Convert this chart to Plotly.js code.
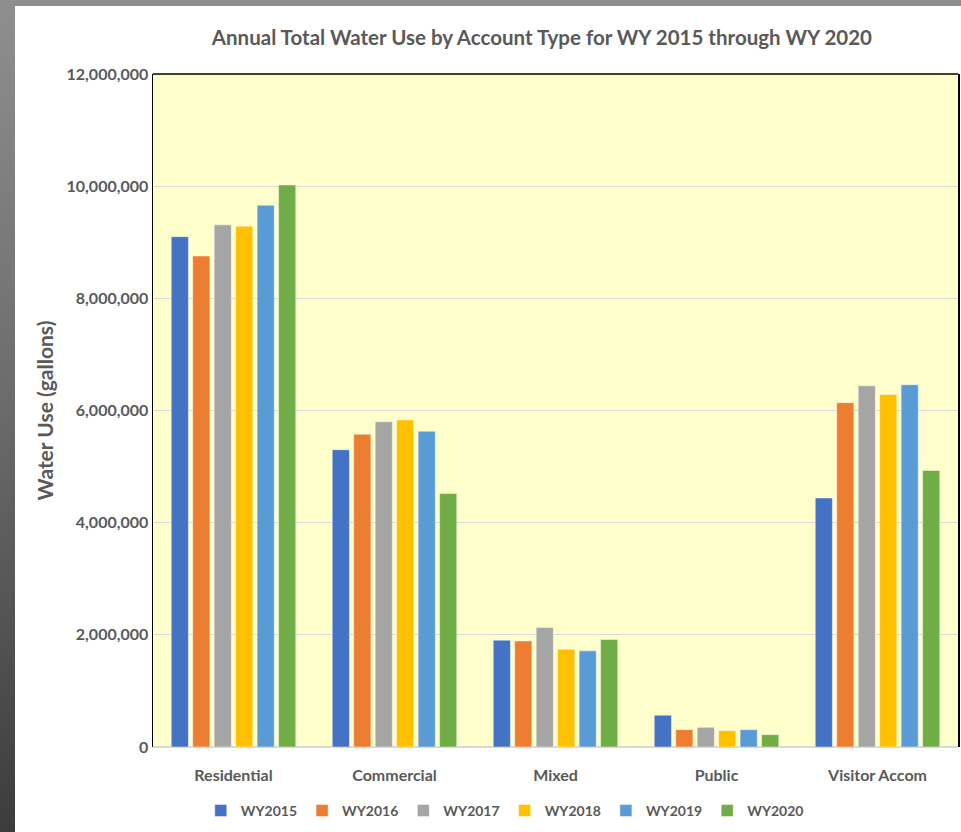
<!DOCTYPE html>
<html>
<head>
<meta charset="utf-8">
<script src="https://cdn.plot.ly/plotly-3.0.1.min.js"></script>
<style>
  html, body { margin: 0; padding: 0; width: 961px; height: 832px; overflow: hidden; }
  body { background: linear-gradient(to bottom, #8f8f8f 0%, #6a6a6a 50%, #3c3c3c 100%); position: relative; }
  #topstrip { position: absolute; left: 0; top: 0; width: 961px; height: 6px; background: #8e8e8e; }
  #chart { position: absolute; left: 15px; top: 6px; width: 946px; height: 826px; background: #ffffff; }
</style>
</head>
<body>
<div id="topstrip"></div>
<div id="chart"></div>
<script>
const categories = ["Residential", "Commercial", "Mixed", "Public", "Visitor Accom"];
const seriesNames = ["WY2015", "WY2016", "WY2017", "WY2018", "WY2019", "WY2020"];
const wy2015 = [9100000, 5300000, 1905000, 566000, 4440000];
const wy2016 = [8755000, 5577000, 1890000, 309000, 6140000];
const wy2017 = [9310000, 5800000, 2130000, 351000, 6440000];
const wy2018 = [9286000, 5830000, 1744000, 291000, 6286000];
const wy2019 = [9660000, 5630000, 1714000, 309000, 6460000];
const wy2020 = [10020000, 4520000, 1916000, 220000, 4930000];
const seriesValues = [wy2015, wy2016, wy2017, wy2018, wy2019, wy2020];
const colors = ["#4472C4", "#ED7D31", "#A5A5A5", "#FFC000", "#5B9BD5", "#70AD47"];
const yTickVals = [0, 2000000, 4000000, 6000000, 8000000, 10000000, 12000000];
const yTickText = ["0", "2,000,000", "4,000,000", "6,000,000", "8,000,000", "10,000,000", "12,000,000"];

const LATO = 'Lato, "Open Sans", sans-serif';

const traces = seriesNames.map((name, i) => ({
  type: "bar",
  name: name,
  x: categories,
  y: seriesValues[i],
  marker: { color: colors[i], line: { color: "rgba(255,255,255,0.45)", width: 1 } },
  hoverinfo: "x+y+name"
}));

const layout = {
  width: 946,
  height: 826,
  margin: { l: 138, r: 3, t: 68, b: 85 },
  paper_bgcolor: "#ffffff",
  plot_bgcolor: "#FFFFCC",
  barmode: "group",
  bargap: 0.2,
  bargroupgap: 0.2,
  title: {
    text: "Annual Total Water Use by Account Type for WY 2015 through WY 2020",
    font: { family: LATO, size: 20.5, color: "#595959", weight: 700 },
    x: 0.557, xanchor: "center",
    y: 0.962, yanchor: "middle"
  },
  xaxis: {
    showline: false,
    showgrid: false,
    ticks: "outside",
    ticklen: 14,
    tickcolor: "rgba(0,0,0,0)",
    tickfont: { family: LATO, size: 16, color: "#595959", weight: 700 },
    fixedrange: true
  },
  yaxis: {
    range: [0, 12000000],
    tickvals: yTickVals,
    ticktext: yTickText,
    tickfont: { family: LATO, size: 16, color: "#595959", weight: 700 },
    showgrid: true,
    gridcolor: "#D9D9D9",
    gridwidth: 1,
    zeroline: true,
    zerolinecolor: "#D9D9D9",
    zerolinewidth: 1.5,
    showline: true,
    linecolor: "#000000",
    linewidth: 1.5,
    mirror: true,
    ticks: "",
    ticklen: 0,
    title: {
      text: "Water Use (gallons)",
      font: { family: LATO, size: 21, color: "#595959", weight: 700 },
      standoff: 7
    },
    fixedrange: true
  },
  shapes: [
    { type: "line", xref: "paper", yref: "paper", x0: 0, x1: 1, y0: 1, y1: 1,
      line: { color: "#000000", width: 1.5 } }
  ],
  legend: {
    orientation: "h",
    x: 0.437, xanchor: "center",
    y: -0.095, yanchor: "middle",
    font: { family: LATO, size: 14, color: "#595959", weight: 700 },
    itemwidth: 30,
    bgcolor: "rgba(0,0,0,0)"
  },
  showlegend: true
};

Plotly.newPlot("chart", traces, layout, { displayModeBar: false, staticPlot: true });
</script>
</body>
</html>
